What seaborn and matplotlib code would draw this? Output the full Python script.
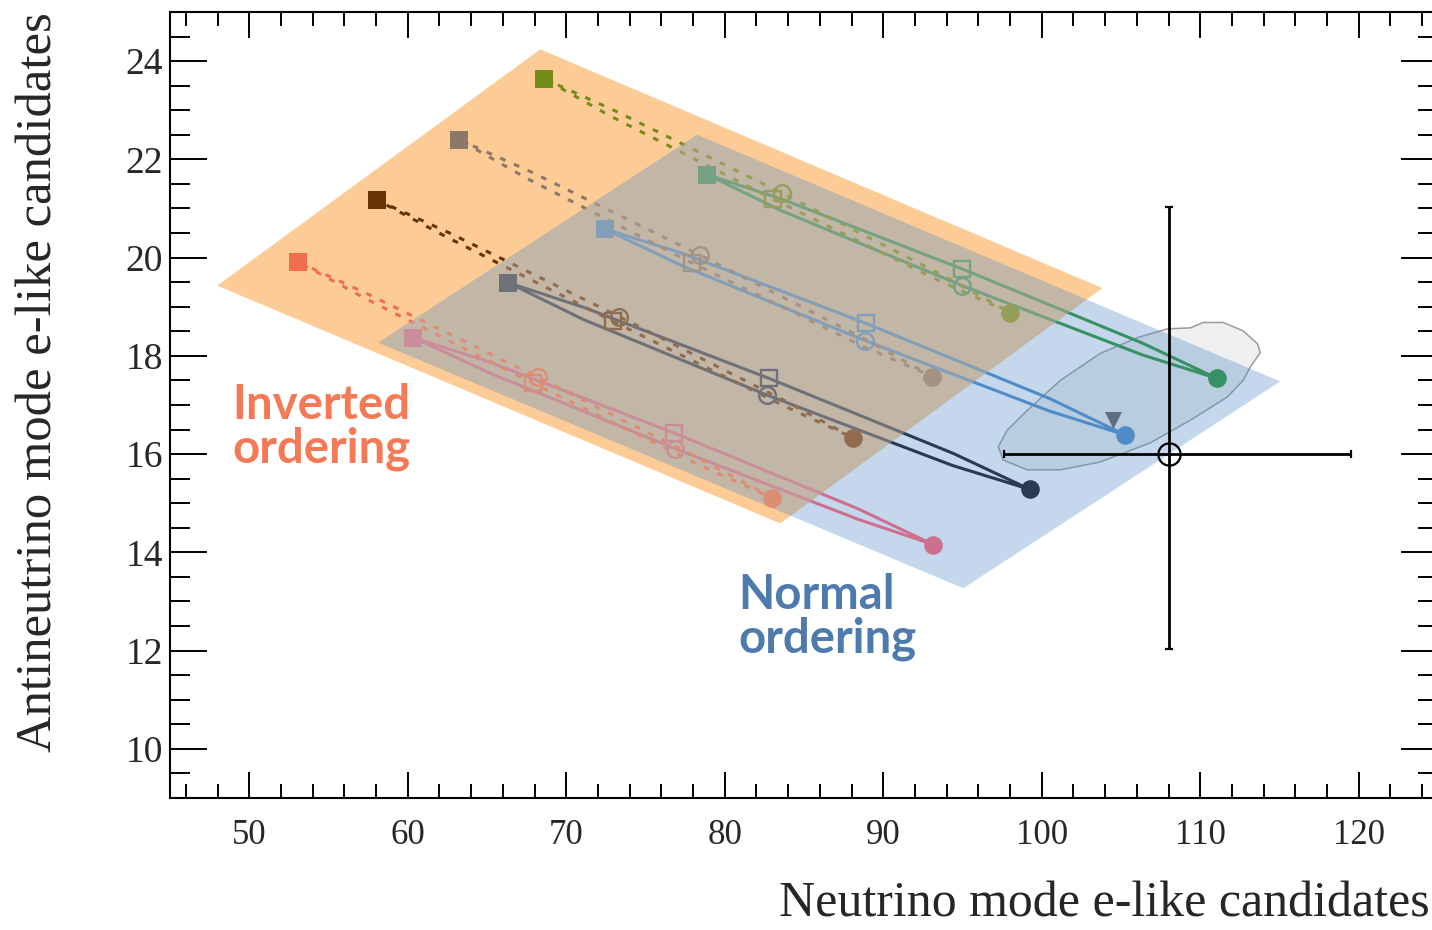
import numpy as np
import pandas as pd
import matplotlib
matplotlib.use("Agg")
import matplotlib.pyplot as plt
from matplotlib.ticker import MultipleLocator, FixedLocator
import seaborn as sns

# ---------------- data ----------------
x_ticks = [50, 60, 70, 80, 90, 100, 110, 120]
y_ticks = [10, 12, 14, 16, 18, 20, 22, 24]

# Inverted-ordering loops (dashed). Point order: filled square, ..., open circle,
# ..., filled circle, ..., open square, ...
io1_x = [53.09, 57.60, 68.23, 78.75, 83.00, 78.53, 67.92, 57.38]
io1_y = [19.91, 19.24, 17.56, 15.85, 15.11, 15.76, 17.44, 19.16]
io2_x = [58.08, 62.65, 73.34, 83.88, 88.11, 83.62, 72.97, 62.39]
io2_y = [21.17, 20.50, 18.80, 17.07, 16.33, 17.00, 18.70, 20.43]
io3_x = [63.25, 67.82, 78.45, 88.92, 93.09, 88.56, 77.95, 67.47]
io3_y = [22.40, 21.74, 20.05, 18.33, 17.58, 18.22, 19.89, 21.62]
io4_x = [68.61, 73.14, 83.63, 93.93, 98.01, 93.53, 83.06, 72.74]
io4_y = [23.64, 22.98, 21.31, 19.61, 18.88, 19.53, 21.19, 22.89]

# Normal-ordering loops (solid). Point order: filled square, ..., open square,
# ..., filled circle, ..., open circle, ...
no1_x = [60.35, 65.20, 76.81, 88.39, 93.15, 88.44, 76.88, 65.25]
no1_y = [18.37, 17.87, 16.43, 14.89, 14.16, 14.67, 16.11, 17.64]
no2_x = [66.34, 71.17, 82.81, 94.45, 99.27, 94.36, 82.68, 71.08]
no2_y = [19.49, 18.98, 17.54, 16.01, 15.28, 15.77, 17.20, 18.74]
no3_x = [72.46, 77.31, 88.93, 100.51, 105.27, 100.46, 88.86, 77.26]
no3_y = [20.58, 20.09, 18.66, 17.13, 16.39, 16.88, 18.31, 19.84]
no4_x = [78.90, 83.61, 94.98, 106.35, 111.07, 106.35, 94.98, 83.61]
no4_y = [21.69, 21.19, 19.77, 18.26, 17.54, 18.02, 19.43, 20.95]

io_colors = ["#F06E4B", "#663305", "#8C7869", "#738C19"]
no_colors = ["#CF6F8E", "#2B3A52", "#4F8CC8", "#379164"]

# shaded regions
io_region_x = [47.98, 68.36, 103.82, 83.50]
io_region_y = [19.43, 24.24, 19.38, 14.59]
no_region_x = [58.14, 78.26, 115.05, 95.05]
no_region_y = [18.27, 22.50, 17.48, 13.27]

# credible-region contour
contour_x = [97.26, 97.57, 99.09, 101.17, 103.69, 106.85, 109.37, 111.70, 112.71,
             113.15, 113.79, 113.60, 112.71, 111.45, 110.19, 109.37, 107.92,
             106.03, 103.69, 101.17, 99.09, 97.82]
contour_y = [16.15, 15.88, 15.68, 15.68, 15.84, 16.23, 16.69, 17.16, 17.50,
             17.77, 18.07, 18.25, 18.51, 18.68, 18.68, 18.57, 18.55,
             18.37, 18.05, 17.50, 16.89, 16.49]

# observed data point with asymmetric errors
obs_x = [108.0]
obs_y = [16.0]
obs_xerr_lo = [10.4]
obs_xerr_hi = [11.5]
obs_yerr_lo = [3.96]
obs_yerr_hi = [5.04]

# best-fit triangle
best_x = [104.5]
best_y = [16.69]

# ---------------- style ----------------
sns.set_style("ticks")
plt.rcParams["font.family"] = ["Liberation Serif", "DejaVu Serif"]

W, H = 1432, 930
fig = plt.figure(figsize=(W / 100, H / 100), dpi=100)
ax = fig.add_axes([170 / W, 1 - 798 / H, (1438 - 170) / W, (798 - 12) / H])

# regions
orange_patch = ax.fill(io_region_x, io_region_y, color="#FDCB96", lw=0, zorder=1)[0]
ax.fill(contour_x, contour_y, facecolor="#EFEFEF", edgecolor="#9C9C9C", lw=1.1, zorder=1.5)
ax.fill(no_region_x, no_region_y, color="#568FC9", alpha=0.35, lw=0, zorder=2)

io_loops = [(io1_x, io1_y), (io2_x, io2_y), (io3_x, io3_y), (io4_x, io4_y)]
no_loops = [(no1_x, no1_y), (no2_x, no2_y), (no3_x, no3_y), (no4_x, no4_y)]


def draw_loop(xs, ys, color, dashed, upper_marker, lower_marker):
    df = pd.DataFrame({"x": list(xs) + [xs[0]], "y": list(ys) + [ys[0]]})
    kw = dict(linestyle=(0, (1.9, 3.0))) if dashed else dict(linestyle="-")
    sns.lineplot(data=df, x="x", y="y", sort=False, estimator=None, color=color,
                 lw=2.2, ax=ax, zorder=3, **kw)
    # filled square (start) and filled circle (far end)
    sns.scatterplot(x=[xs[0]], y=[ys[0]], marker="s", s=160, color=color,
                    linewidth=0, ax=ax, zorder=4)
    sns.scatterplot(x=[xs[4]], y=[ys[4]], marker="o", s=180, color=color,
                    linewidth=0, ax=ax, zorder=4)
    # open markers at the middle of each side
    ax.plot([xs[2]], [ys[2]], marker=upper_marker, ms=12, mfc="none", mec=color,
            mew=1.7, ls="none", zorder=4)
    ax.plot([xs[6]], [ys[6]], marker=lower_marker, ms=12, mfc="none", mec=color,
            mew=1.7, ls="none", zorder=4)


for (xs, ys), c in zip(no_loops, no_colors):
    draw_loop(xs, ys, c, False, "s", "o")
for (xs, ys), c in zip(io_loops, io_colors):
    draw_loop(xs, ys, c, True, "o", "s")

# muting overlay inside the overlap of both regions
ov = ax.fill(no_region_x, no_region_y, color="#C3B6A8", alpha=0.45, lw=0, zorder=6)[0]
ov.set_clip_path(orange_patch)

# best fit
sns.scatterplot(x=best_x, y=best_y, marker="v", s=150, color="#5E6D80",
                linewidth=0, ax=ax, zorder=5)

# observation
ax.errorbar(obs_x, obs_y, xerr=[obs_xerr_lo, obs_xerr_hi], yerr=[obs_yerr_lo, obs_yerr_hi],
            fmt="o", ms=16, mfc="none", mec="black", mew=1.6, color="black",
            elinewidth=2.0, capsize=3, capthick=1.8, zorder=7)

# annotations
ax.text(48.93, 17.45, "Inverted\nordering", color="#F47A57", fontsize=34,
        fontweight="bold", family=["Lato", "DejaVu Sans"], ha="left", va="top",
        linespacing=0.98, zorder=8)
ax.text(80.85, 13.57, "Normal\nordering", color="#4E7BAE", fontsize=34,
        fontweight="bold", family=["Lato", "DejaVu Sans"], ha="left", va="top",
        linespacing=0.98, zorder=8)

# axes
ax.set_xlim(45, 125)
ax.set_ylim(9, 25)
ax.xaxis.set_major_locator(FixedLocator(x_ticks))
ax.yaxis.set_major_locator(FixedLocator(y_ticks))
ax.set_xticklabels([str(v) for v in x_ticks])
ax.set_yticklabels([str(v) for v in y_ticks])
ax.xaxis.set_minor_locator(MultipleLocator(2))
ax.yaxis.set_minor_locator(MultipleLocator(0.5))
ax.tick_params(axis="both", which="both", direction="in", top=True, right=True,
               color="black", width=1.4)
ax.tick_params(axis="x", which="major", length=18.7, labelsize=25, pad=15)
ax.tick_params(axis="x", which="minor", length=10)
ax.tick_params(axis="y", which="major", length=26.6, labelsize=27, pad=5)
ax.tick_params(axis="y", which="minor", length=14.4)
for s in ax.spines.values():
    s.set_linewidth(1.5)
    s.set_color("black")

ax.set_xlabel("Neutrino mode e-like candidates", fontsize=36, loc="right")
ax.set_ylabel("Antineutrino mode e-like candidates", fontsize=36.5, loc="top")
ax.xaxis.set_label_coords(0.9935, -0.105)
ax.yaxis.set_label_coords(-0.085, 1.0)

fig.savefig("out.png", dpi=100)
